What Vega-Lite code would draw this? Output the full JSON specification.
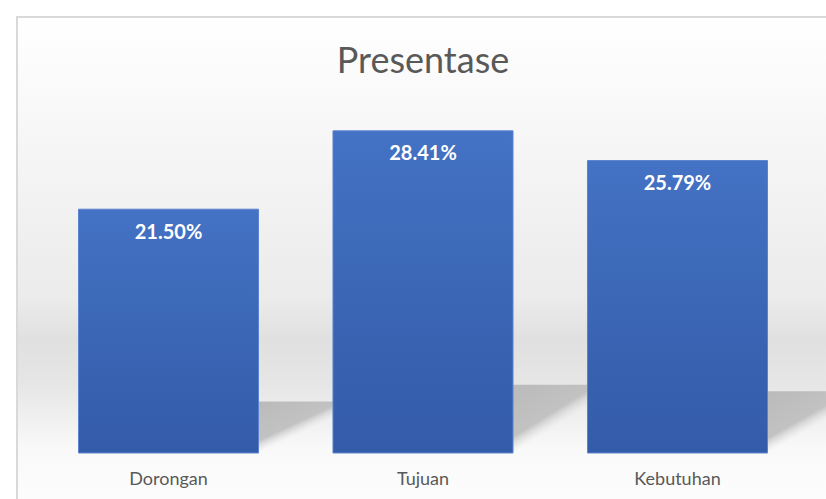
{
  "$schema": "https://vega.github.io/schema/vega-lite/v6.json",
  "width": 812,
  "height": 486,
  "autosize": {"type": "none"},
  "padding": {"left": 17, "top": 17, "right": 0, "bottom": 0},
  "background": "#ffffff",
  "title": {
    "text": "Presentase",
    "font": "Lato",
    "fontSize": 36,
    "fontWeight": "normal",
    "color": "#595959",
    "anchor": "middle",
    "frame": "group",
    "baseline": "alphabetic",
    "offset": 0,
    "dy": 92
  },
  "config": {
    "view": {
      "stroke": "#d9d9d9",
      "strokeWidth": 2,
      "fill": {
        "gradient": "linear",
        "x1": 0, "y1": 0, "x2": 0, "y2": 1,
        "stops": [
          {"offset": 0, "color": "#ffffff"},
          {"offset": 0.17, "color": "#f9f9f9"},
          {"offset": 0.58, "color": "#ebebeb"},
          {"offset": 0.665, "color": "#e0e0e0"},
          {"offset": 0.757, "color": "#e6e6e6"},
          {"offset": 0.89, "color": "#f9f9f9"},
          {"offset": 1, "color": "#fdfdfd"}
        ]
      }
    }
  },
  "data": {
    "values": [
      {"kategori": "Dorongan", "persen": 0.2150},
      {"kategori": "Tujuan", "persen": 0.2841},
      {"kategori": "Kebutuhan", "persen": 0.2579}
    ]
  },
  "encoding": {
    "x": {
      "field": "kategori",
      "type": "nominal",
      "sort": null,
      "axis": null,
      "scale": {"paddingInner": 0.2927, "paddingOuter": 0.2417}
    }
  },
  "layer": [
    {
      "mark": {
        "type": "bar",
        "width": 110,
        "xOffset": 145,
        "color": {
          "gradient": "linear",
          "x1": 0, "y1": 0, "x2": 1, "y2": 1,
          "stops": [
            {"offset": 0, "color": "#bababa"},
            {"offset": 0.38, "color": "#c2c2c2"},
            {"offset": 0.5, "color": "rgba(225,225,225,0)"},
            {"offset": 1, "color": "rgba(225,225,225,0)"}
          ]
        }
      },
      "encoding": {
        "y": {"field": "persen", "type": "quantitative", "scale": {"domain": [-0.2083, 1.817], "nice": false, "zero": false}, "axis": null},
        "y2": {"datum": 0}
      }
    },
    {
      "mark": {
        "type": "bar",
        "stroke": "#5b83cf",
        "strokeWidth": 1,
        "color": {
          "gradient": "linear",
          "x1": 0, "y1": 0, "x2": 0, "y2": 1,
          "stops": [
            {"offset": 0, "color": "#4472c4"},
            {"offset": 1, "color": "#335ba8"}
          ]
        }
      },
      "encoding": {
        "y": {"field": "persen", "type": "quantitative", "scale": {"domain": [-0.0441, 0.3845], "nice": false, "zero": false}, "axis": null},
        "y2": {"datum": 0}
      }
    },
    {
      "mark": {"type": "text", "font": "Lato", "fontSize": 20, "fontWeight": "bold", "color": "#ffffff", "baseline": "middle", "dy": 23.5},
      "encoding": {
        "y": {"field": "persen", "type": "quantitative", "scale": {"domain": [-0.0441, 0.3845], "nice": false, "zero": false}, "axis": null},
        "text": {"field": "persen", "type": "quantitative", "format": ".2%"}
      }
    },
    {
      "mark": {"type": "text", "font": "Lato", "fontSize": 18, "color": "#595959", "baseline": "middle"},
      "encoding": {
        "y": {"datum": -0.0234, "type": "quantitative", "scale": {"domain": [-0.0441, 0.3845], "nice": false, "zero": false}, "axis": null},
        "text": {"field": "kategori", "type": "nominal"}
      }
    }
  ],
  "resolve": {"scale": {"y": "independent"}}
}
